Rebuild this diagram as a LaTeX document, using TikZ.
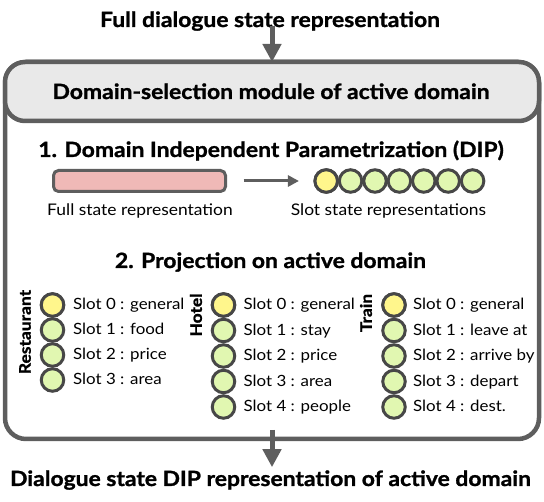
\documentclass[tikz,border=0pt]{standalone}
\usepackage{fontspec}
\setmainfont{Lato}[FakeStretch=1.09, BoldFeatures={FakeBold=1.2}]
\usetikzlibrary{arrows.meta}
\definecolor{edge}{HTML}{5E5E5E}
\definecolor{cedge}{HTML}{474747}
\definecolor{hdrfill}{HTML}{E9E9E9}
\definecolor{pink}{HTML}{F0B9B7}
\definecolor{slotg}{HTML}{E1F7B1}
\definecolor{sloty}{HTML}{FFF68C}
\tikzset{
  bigtitle/.style={font=\bfseries\fontsize{21}{21}\selectfont, inner sep=0pt},
  sechead/.style={font=\bfseries\fontsize{21}{21}\selectfont, inner sep=0pt},
  slot/.style={circle, draw=cedge, line width=3pt, minimum size=22.5pt, inner sep=0pt, outer sep=0pt, fill=slotg},
  gen/.style={slot, fill=sloty},
  lbl/.style={anchor=base west, inner sep=0pt, font=\fontsize{15.5}{15.5}\selectfont},
  captext/.style={inner sep=0pt, font=\fontsize{16}{16}\selectfont},
  domlabel/.style={rotate=90, inner sep=0pt, font=\bfseries\fontsize{16}{16}\selectfont},
  bigarrow/.style={draw=edge, line width=5pt, -{Triangle[width=18pt,length=18pt]}},
  thinarrow/.style={draw=edge, line width=3pt, -{Triangle[width=11pt,length=11pt]}}
}
\begin{document}
\begin{tikzpicture}[x=1pt, y=-1pt]
\useasboundingbox (0,0) rectangle (544,502);
% outer box and header
\node[draw=edge, line width=4.5pt, rounded corners=21pt, minimum width=534pt, minimum height=377pt, inner sep=0pt, outer sep=0pt] (box) at (272,250.5) {};
\node[draw=edge, fill=hdrfill, line width=4.5pt, rounded corners=20pt, minimum width=534pt, minimum height=59pt, inner sep=0pt, outer sep=0pt] (hdr) at (272,91.5) {};
\node[bigtitle, anchor=base] (hdrt) at (271,99) {Domain-selection module of active domain};
% titles
\node[bigtitle, anchor=base] (top) at (270,27) {Full dialogue state representation};
\node[bigtitle, anchor=base] (bot) at (270.5,486) {Dialogue state DIP representation of active domain};
\coordinate (topin) at (272,62);
\coordinate (botout) at (272,430);
\draw[bigarrow] (topin |- top.south) ++(0,-5) -- (topin);
\draw[bigarrow] (botout) -- ([yshift=3pt]botout |- bot.north);
% section 1
\node[sechead, anchor=base] (s1) at (271,157) {1. Domain Independent Parametrization (DIP)};
\node[draw=edge, fill=pink, line width=3pt, rounded corners=5pt, minimum width=172pt, minimum height=21pt, inner sep=0pt, outer sep=0pt] (bar) at (139.5,181) {};
\node[captext, anchor=base] (barl) at (140,216) {Full state representation};
\foreach \i in {0,...,6} {
  \node[slot] (c\i) at (326.2+24.4*\i,181) {};
}
\node[gen] at (c0) {};
\node[captext, anchor=base] (cl) at (388.5,216) {Slot state representations};
\draw[thinarrow] ([xshift=18pt]bar.east) -- ([xshift=-16pt]c0.west);
% section 2
\node[sechead, anchor=base] (s2) at (270.5,268) {2. Projection on active domain};
% restaurant
\node[domlabel] (rest) at (25,332) {Restaurant};
\foreach \i/\t in {0/general,1/food,2/price,3/area} {
  \node[slot] (r\i) at (52.5,305+25*\i) {};
  \node[lbl] (rl\i) at ([xshift=20.5pt,yshift=-5pt]r\i.center) {Slot \i\ : \t};
}
\node[gen] at (r0) {};
% hotel
\node[domlabel] (hotel) at (196,315) {Hotel};
\foreach \i/\t in {0/general,1/stay,2/price,3/area,4/people} {
  \node[slot] (h\i) at (223.5,305+25.5*\i) {};
  \node[lbl] (hl\i) at ([xshift=20pt,yshift=-5pt]h\i.center) {Slot \i\ : \t};
}
\node[gen] at (h0) {};
% train
\node[domlabel] (train) at (366,313) {Train};
\foreach \i/\t in {0/general,1/leave at,2/arrive by,3/depart,4/dest.} {
  \node[slot] (t\i) at (394,305+25.5*\i) {};
  \node[lbl] (tl\i) at ([xshift=19pt,yshift=-5pt]t\i.center) {Slot \i\ : \t};
}
\node[gen] at (t0) {};
\end{tikzpicture}
\end{document}
